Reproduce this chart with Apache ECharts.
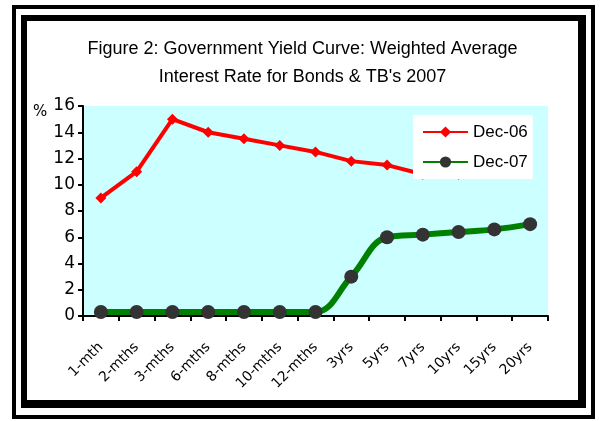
<!DOCTYPE html>
<html>
<head>
<meta charset="utf-8">
<script src="https://cdn.jsdelivr.net/npm/echarts@6/dist/echarts.min.js"></script>
<style>html,body{margin:0;padding:0;background:#fff;}#c{width:605px;height:421px;}</style>
</head>
<body>
<div id="c"></div>
<script>
var categories = ['1-mth','2-mths','3-mths','6-mths','8-mths','10-mths','12-mths','3yrs','5yrs','7yrs','10yrs','15yrs','20yrs'];
var dec06 = [9, 11, 15, 14, 13.5, 13, 12.5, 11.8, 11.5, 10.8, 10.8, 11.0, null];
var dec07 = [0.3, 0.3, 0.3, 0.3, 0.3, 0.3, 0.3, 3.0, 6.0, 6.2, 6.4, 6.6, 7.0];
var yTicks = [0, 2, 4, 6, 8, 10, 12, 14, 16];
var titleLines = ['Figure 2: Government Yield Curve: Weighted Average', "Interest Rate for Bonds & TB's 2007"];

var chart = echarts.init(document.getElementById('c'), null, {renderer: 'canvas'});
var sans = '"Liberation Sans", Arial, sans-serif';
chart.setOption({
  animation: false,
  backgroundColor: '#ffffff',
  title: {
    text: titleLines.join('\n'),
    left: 'center',
    top: 35,
    padding: 0,
    textStyle: {fontFamily: sans, fontSize: 18, fontWeight: 'normal', color: '#000', lineHeight: 28}
  },
  graphic: [
    {type: 'rect', z: -3, shape: {x: 14, y: 7, width: 579, height: 410}, style: {fill: '#fff', stroke: '#000', lineWidth: 4}},
    {type: 'rect', z: -2, shape: {x: 21, y: 15, width: 565, height: 393}, style: {fill: '#000'}},
    {type: 'rect', z: -1, shape: {x: 27, y: 21, width: 551, height: 379}, style: {fill: '#fff'}},
    {type: 'text', left: 33, top: 105, style: {text: '%', font: '15px "DejaVu Sans"', fill: '#000'}}
  ],
  legend: {
    data: ['Dec-06', 'Dec-07'],
    orient: 'vertical',
    left: 413, top: 115,
    backgroundColor: '#ffffff',
    padding: [7, 5, 7, 9],
    itemGap: 10,
    itemWidth: 45, itemHeight: 14,
    textStyle: {fontFamily: sans, fontSize: 17, color: '#000', lineHeight: 20}
  },
  grid: {
    left: 83, right: 57, top: 106, bottom: 105,
    show: true, backgroundColor: '#ccffff', borderWidth: 0
  },
  xAxis: {
    type: 'category',
    data: categories,
    boundaryGap: true,
    axisLine: {lineStyle: {color: '#000', width: 2}},
    axisTick: {show: true, length: 5, lineStyle: {color: '#000', width: 2}},
    axisLabel: {rotate: 45, interval: 0, margin: 29, fontFamily: '"DejaVu Sans"', fontSize: 14, color: '#000'}
  },
  yAxis: {
    type: 'value',
    min: yTicks[0], max: yTicks[yTicks.length - 1], interval: 2,
    axisLine: {show: true, lineStyle: {color: '#000', width: 2}},
    axisTick: {show: true, length: 5, lineStyle: {color: '#000', width: 2}},
    splitLine: {show: false},
    axisLabel: {margin: 8, fontFamily: '"DejaVu Sans"', fontSize: 17, color: '#000'}
  },
  series: [
    {
      name: 'Dec-06', type: 'line', data: dec06,
      symbol: 'diamond', symbolSize: 11,
      lineStyle: {color: '#ff0000', width: 4},
      itemStyle: {color: '#ff0000'}
    },
    {
      name: 'Dec-07', type: 'line', data: dec07,
      smooth: 0.4,
      symbol: 'circle', symbolSize: 14,
      lineStyle: {color: '#008000', width: 6},
      itemStyle: {color: '#333333'}
    }
  ]
});
</script>
</body>
</html>
